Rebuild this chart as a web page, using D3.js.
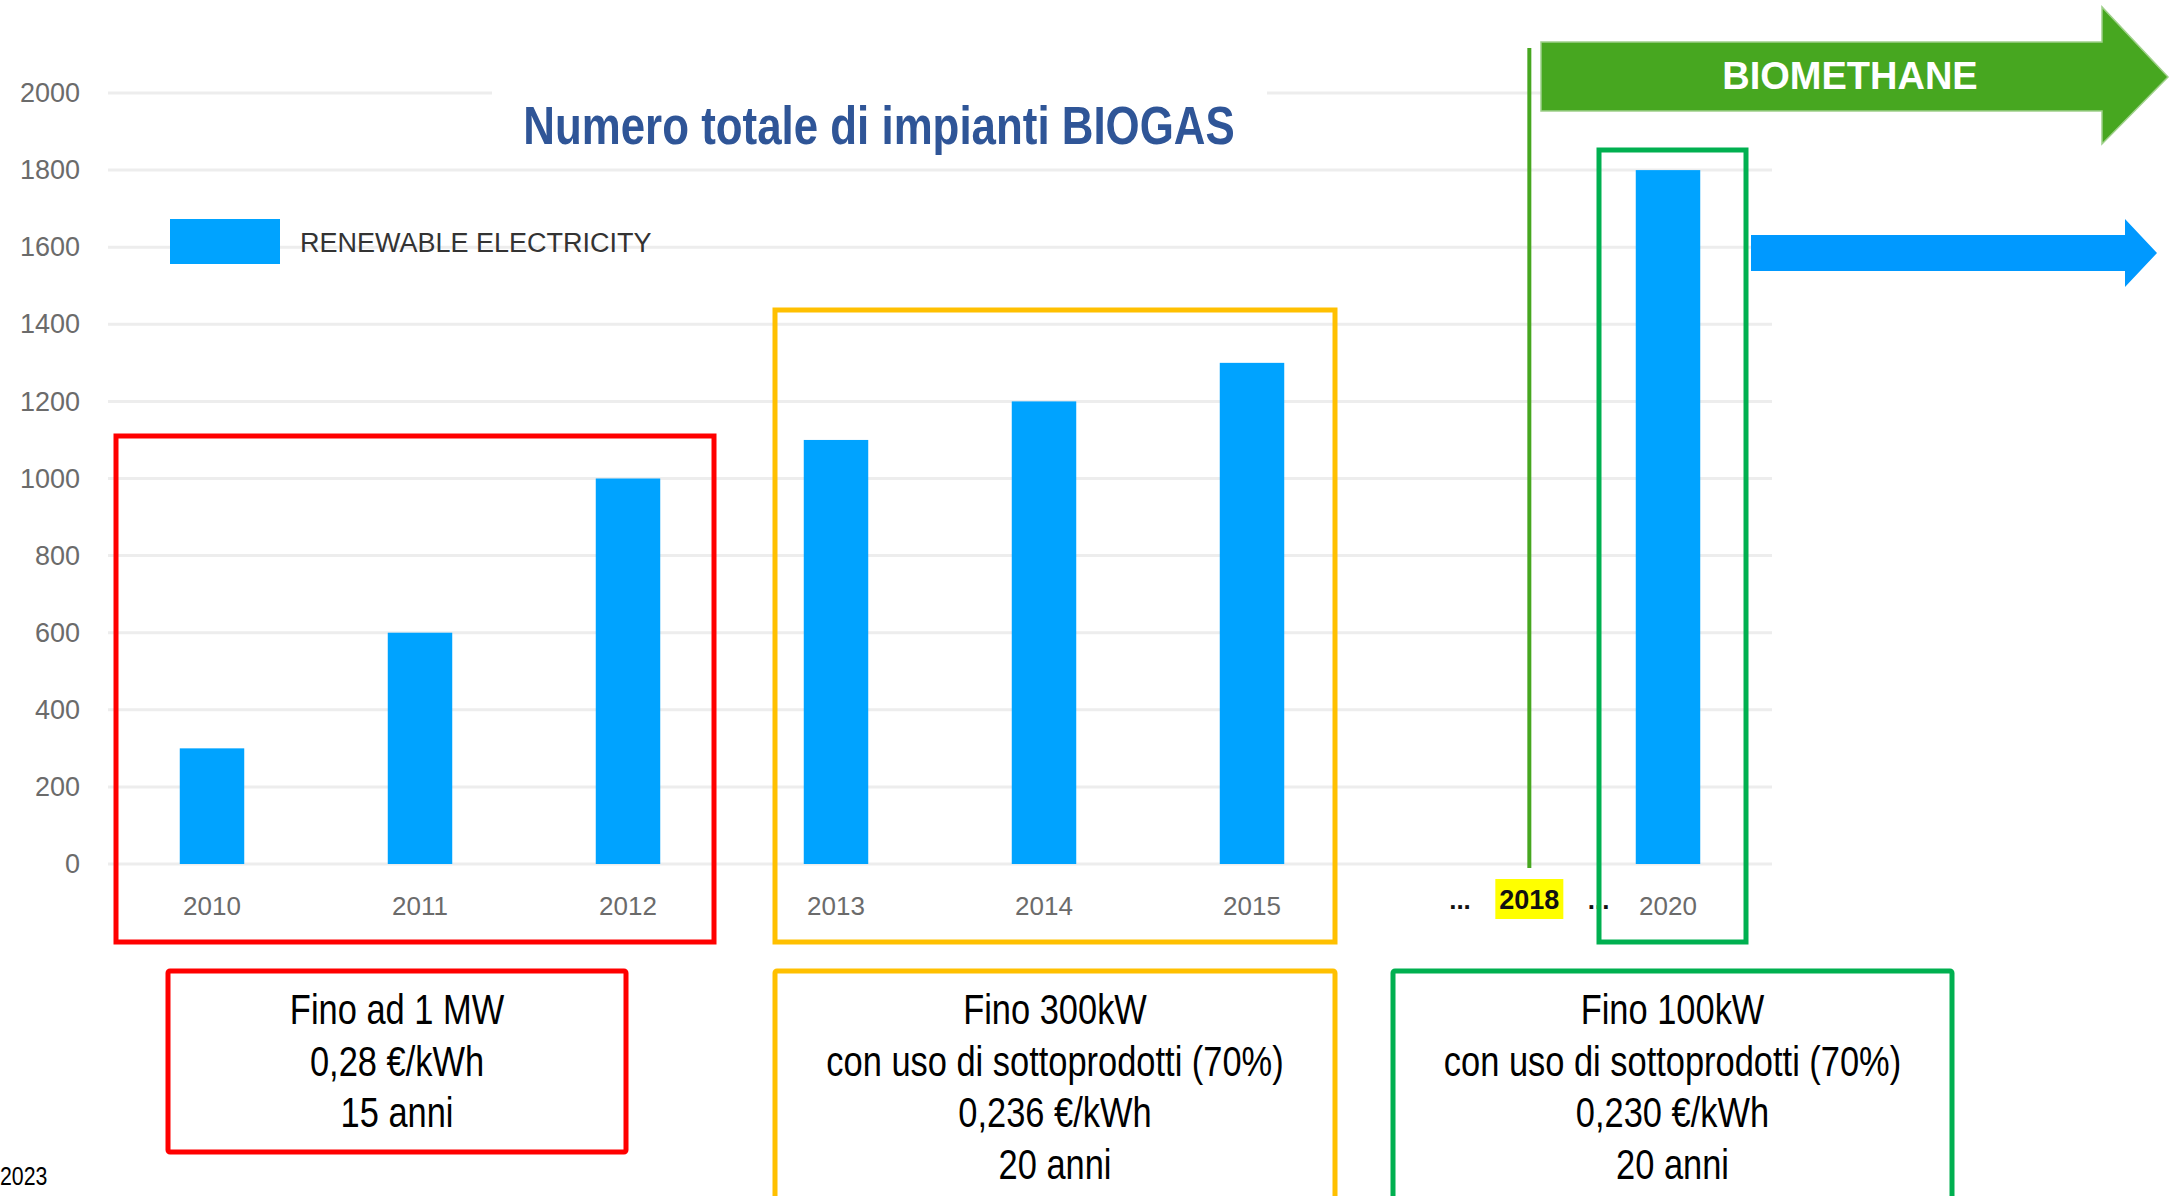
<!DOCTYPE html>
<html>
<head>
<meta charset="utf-8">
<script src="https://cdn.jsdelivr.net/npm/d3@7"></script>
<style>
  body { margin: 0; background: #fff; }
  svg { display: block; }
</style>
</head>
<body>
<script>
// dati del grafico
var years = ["2010", "2011", "2012", "2013", "2014", "2015", "gap", "2020"];
var plants = [300, 600, 1000, 1100, 1200, 1300, null, 1800];
var yTicks = [0, 200, 400, 600, 800, 1000, 1200, 1400, 1600, 1800, 2000];
var title = "Numero totale di impianti BIOGAS";
var legendLabel = "RENEWABLE ELECTRICITY";
var gapLabels = ["...", "2018", "..."];

// fasce di incentivo (riquadri)
var periods = ["2010-2012", "2013-2015", "2020"];
var periodText = [
    ["Fino ad 1 MW", "0,28 €/kWh", "15 anni"],
    ["Fino 300kW", "con uso di sottoprodotti (70%)", "0,236 €/kWh", "20 anni"],
    ["Fino 100kW", "con uso di sottoprodotti (70%)", "0,230 €/kWh", "20 anni"]
];

// layout
var W = 2171, H = 1196;
var plot = { left: 108, right: 1772, top: 93, bottom: 864 };
var colors = {
    bar: "#00A3FF", arrowBlue: "#0099FF", green: "#47A720",
    grid: "#EDEDED", tick: "#6b6b6b", title: "#2F5597"
};
var boxColors = ["#FF0000", "#FFC000", "#00B050"];
var topBoxes = [
    { x0: 116, x1: 714, y0: 436 },
    { x0: 775, x1: 1335, y0: 310 },
    { x0: 1599, x1: 1746, y0: 150 }
];
var bottomBoxes = [
    { x0: 168, x1: 626, y0: 971, y1: 1152 },
    { x0: 775, x1: 1335, y0: 971, y1: 1230 },
    { x0: 1393, x1: 1952, y0: 971, y1: 1230 }
];
var sans = "'Liberation Sans', Arial, sans-serif";
var squeeze = 0.82; // niente Arial Narrow: si stringe Liberation Sans

var svg = d3.select("body").append("svg")
    .attr("width", W)
    .attr("height", H);

svg.append("rect").attr("width", W).attr("height", H).attr("fill", "#fff");

// testo "narrow" ottenuto con una scala orizzontale
function narrowText(parent, x0, y0, str, size, weight, fill, anchor) {
    return parent.append("g")
        .attr("transform", "translate(" + x0 + "," + y0 + ") scale(" + squeeze + ",1)")
        .append("text")
        .attr("text-anchor", anchor || "middle")
        .attr("font-family", sans)
        .attr("font-weight", weight || "normal")
        .attr("font-size", size)
        .attr("fill", fill || "#000")
        .text(str);
}

var x = d3.scaleBand()
    .domain(years)
    .range([plot.left, plot.right])
    .paddingInner(0.69)
    .paddingOuter(0.345);

var y = d3.scaleLinear()
    .domain([0, 2000])
    .range([plot.bottom, plot.top]);

// griglia
svg.append("g")
    .selectAll("line")
    .data(yTicks)
    .enter().append("line")
    .attr("x1", plot.left)
    .attr("x2", plot.right)
    .attr("y1", function (d) { return y(d); })
    .attr("y2", function (d) { return y(d); })
    .attr("stroke", colors.grid)
    .attr("stroke-width", 3);

// asse y
var yAxis = svg.append("g")
    .attr("transform", "translate(" + (plot.left - 28) + ",0)")
    .call(d3.axisLeft(y).tickValues(yTicks).tickSize(0).tickPadding(0).tickFormat(d3.format("d")));
yAxis.select(".domain").remove();
yAxis.selectAll("text")
    .attr("font-family", sans)
    .attr("font-size", 27)
    .attr("fill", colors.tick);

// asse x
var xAxis = svg.append("g")
    .attr("transform", "translate(0," + plot.bottom + ")")
    .call(d3.axisBottom(x).tickSize(0).tickPadding(33)
        .tickFormat(function (d) { return d === "gap" ? "" : d; }));
xAxis.select(".domain").remove();
xAxis.selectAll("text")
    .attr("font-family", sans)
    .attr("font-size", 26)
    .attr("fill", colors.tick);

// barre
svg.append("g")
    .selectAll("rect")
    .data(years.map(function (d, i) { return { year: d, value: plants[i] }; })
        .filter(function (d) { return d.value != null; }))
    .enter().append("rect")
    .attr("x", function (d) { return x(d.year); })
    .attr("y", function (d) { return y(d.value); })
    .attr("width", x.bandwidth())
    .attr("height", function (d) { return y(0) - y(d.value); })
    .attr("fill", colors.bar);

// titolo con sfondo bianco
svg.append("rect")
    .attr("x", 492).attr("y", 70)
    .attr("width", 775).attr("height", 90)
    .attr("fill", "#fff");
narrowText(svg, 879, 144, title, 53.5, "bold", colors.title);

// legenda
svg.append("rect")
    .attr("x", 170).attr("y", 219)
    .attr("width", 110).attr("height", 45)
    .attr("fill", colors.bar);
svg.append("text")
    .attr("x", 300).attr("y", 252)
    .attr("font-family", sans)
    .attr("font-size", 27)
    .attr("fill", "#333")
    .text(legendLabel);

// etichette "... 2018 ..."
var gapCenter = x("gap") + x.bandwidth() / 2;
var third = x.step() / 3;
var x2018 = gapCenter + third;
svg.append("rect")
    .attr("x", x2018 - 34).attr("y", 879)
    .attr("width", 68).attr("height", 40)
    .attr("fill", "#FFFF00");
svg.append("g")
    .selectAll("text")
    .data(gapLabels)
    .enter().append("text")
    .attr("x", function (d, i) { return gapCenter + i * third; })
    .attr("y", 909)
    .attr("text-anchor", "middle")
    .attr("font-family", sans)
    .attr("font-weight", "bold")
    .attr("font-size", function (d, i) { return i === 1 ? 27 : 26; })
    .attr("fill", "#111")
    .text(function (d) { return d; });

// linea verticale verde
svg.append("line")
    .attr("x1", x2018).attr("x2", x2018)
    .attr("y1", 48).attr("y2", 868)
    .attr("stroke", colors.green)
    .attr("stroke-width", 4);

// frecce
var greenArrow = [[1541, 42], [2102, 42], [2102, 7], [2168, 77], [2102, 144], [2102, 111], [1541, 111]];
var blueArrow = [[1751, 235], [2125, 235], [2125, 219], [2157, 253], [2125, 287], [2125, 271], [1751, 271]];
svg.append("polygon")
    .attr("points", greenArrow.join(" "))
    .attr("fill", colors.green)
    .attr("stroke", "#9fd08a")
    .attr("stroke-width", 1.5);
svg.append("text")
    .attr("x", 1850).attr("y", 89)
    .attr("text-anchor", "middle")
    .attr("font-family", sans)
    .attr("font-weight", "bold")
    .attr("font-size", 38)
    .attr("fill", "#fff")
    .text("BIOMETHANE");
svg.append("polygon")
    .attr("points", blueArrow.join(" "))
    .attr("fill", colors.arrowBlue);

// riquadri attorno alle barre
svg.append("g")
    .selectAll("rect")
    .data(periods)
    .enter().append("rect")
    .attr("x", function (d, i) { return topBoxes[i].x0; })
    .attr("y", function (d, i) { return topBoxes[i].y0; })
    .attr("width", function (d, i) { return topBoxes[i].x1 - topBoxes[i].x0; })
    .attr("height", function (d, i) { return 942 - topBoxes[i].y0; })
    .attr("fill", "none")
    .attr("stroke", function (d, i) { return boxColors[i]; })
    .attr("stroke-width", 5);

// riquadri con testo
var bottom = svg.append("g")
    .selectAll("g")
    .data(periods)
    .enter().append("g");

bottom.append("rect")
    .attr("x", function (d, i) { return bottomBoxes[i].x0; })
    .attr("y", function (d, i) { return bottomBoxes[i].y0; })
    .attr("width", function (d, i) { return bottomBoxes[i].x1 - bottomBoxes[i].x0; })
    .attr("height", function (d, i) { return bottomBoxes[i].y1 - bottomBoxes[i].y0; })
    .attr("rx", 2)
    .attr("fill", "#fff")
    .attr("stroke", function (d, i) { return boxColors[i]; })
    .attr("stroke-width", 5);

bottom.each(function (d, i) {
    var b = bottomBoxes[i];
    var g = d3.select(this);
    periodText[i].forEach(function (t, j) {
        narrowText(g, (b.x0 + b.x1) / 2, 1024 + j * 51.5, t, 42);
    });
});

// anno in basso a sinistra
narrowText(svg, 0, 1185, "2023", 26, "normal", "#000", "start");
</script>
</body>
</html>
